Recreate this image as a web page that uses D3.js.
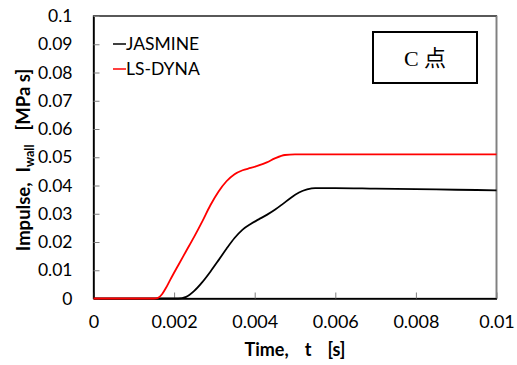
<!DOCTYPE html>
<html><head><meta charset="utf-8">
<script src="https://cdn.jsdelivr.net/npm/d3@7"></script>
<style>
body{margin:0;background:#fff;}
svg{display:block;}
text{font-family:Lato,"Noto Sans",sans-serif;}
</style></head>
<body><svg id="c" width="517" height="365"></svg>
<script>
const xTicks=[0,0.002,0.004,0.006,0.008,0.01];
const xTickLabels=["0","0.002","0.004","0.006","0.008","0.01"];
const yTicks=[0,0.01,0.02,0.03,0.04,0.05,0.06,0.07,0.08,0.09,0.1];
const yTickLabels=["0","0.01","0.02","0.03","0.04","0.05","0.06","0.07","0.08","0.09","0.1"];
const seriesNames=["JASMINE","LS-DYNA"];
const seriesColors=["#000000","#ff0000"];
const jasmineT=[0,0.0020,0.0021,0.0023,0.0025,0.0027,0.0029,0.0031,0.0033,0.0035,0.0037,0.0039,0.0041,0.0043,0.0045,0.0047,0.0049,0.0051,0.0053,0.0055,0.0060,0.0070,0.0080,0.0090,0.0100];
const jasmineV=[0,0,0,0.0006,0.0027,0.0058,0.0095,0.0135,0.0176,0.0214,0.0244,0.0264,0.0280,0.0296,0.0314,0.0335,0.0357,0.0375,0.0386,0.0391,0.0391,0.0389,0.0387,0.0385,0.0383];
const lsdynaT=[0,0.0015,0.0016,0.0017,0.0018,0.0019,0.0021,0.0023,0.0025,0.0027,0.0029,0.0031,0.0033,0.0035,0.0037,0.0039,0.0041,0.0043,0.0045,0.00475,0.0050,0.0060,0.0070,0.0080,0.0090,0.0100];
const lsdynaV=[0,0,0.0002,0.0015,0.0038,0.0065,0.0117,0.0168,0.0219,0.0273,0.0330,0.0378,0.0415,0.0440,0.0454,0.0462,0.0471,0.0482,0.0496,0.0508,0.0510,0.0510,0.0510,0.0510,0.0510,0.0510];

const svg=d3.select("#c");
const L=93.5,R=496.5,T=16,B=298.5;
const x=d3.scaleLinear().domain([0,0.01]).range([L,R]);
const y=d3.scaleLinear().domain([0,0.1]).range([B,T]);

// plot frame
svg.append("rect").attr("x",L).attr("y",T).attr("width",R-L).attr("height",B-T)
  .attr("fill","none").attr("stroke","#000").attr("stroke-width",1.3);
svg.append("line").attr("x1",R).attr("x2",R).attr("y1",T).attr("y2",B).attr("stroke","#808080").attr("stroke-width",1.5);

// axes
const xAxis=d3.axisBottom(x).tickValues(xTicks).tickFormat((d,i)=>xTickLabels[i]).tickSizeInner(-6).tickSizeOuter(0).tickPadding(17);
const gx=svg.append("g").attr("transform",`translate(0,${B})`).call(xAxis);
gx.select(".domain").attr("stroke","#000").attr("stroke-width",1.5);
gx.selectAll(".tick line").attr("stroke","#808080");
gx.selectAll("text").attr("font-size",18).attr("fill","#000").style("font-family","Lato");

const yAxis=d3.axisLeft(y).tickValues(yTicks).tickFormat((d,i)=>yTickLabels[i]).tickSizeInner(-6).tickSizeOuter(0).tickPadding(21);
const gy=svg.append("g").attr("transform",`translate(${L},0)`).call(yAxis);
gy.select(".domain").attr("stroke","#000").attr("stroke-width",1.5);
gy.selectAll(".tick line").attr("stroke","#808080");
gy.selectAll("text").attr("font-size",17.5).attr("fill","#000").style("font-family","Lato");

// lines
const line=d3.line().x(d=>x(d[0])).y(d=>y(d[1])).curve(d3.curveMonotoneX);
const data=[d3.zip(jasmineT,jasmineV),d3.zip(lsdynaT,lsdynaV)];
data.forEach((s,i)=>{
  svg.append("path").datum(s).attr("d",line).attr("fill","none")
    .attr("stroke",seriesColors[i]).attr("stroke-width",1.8);
});

// legend
seriesNames.forEach((n,i)=>{
  const yy=44+i*25;
  svg.append("line").attr("x1",113).attr("x2",126).attr("y1",yy).attr("y2",yy)
    .attr("stroke",seriesColors[i]).attr("stroke-width",1.5);
  svg.append("text").attr("x",126).attr("y",yy).attr("dy","0.35em")
    .attr("font-size",17.5).text(n);
});

// C点 box
svg.append("rect").attr("x",373).attr("y",32).attr("width",104).attr("height",51)
  .attr("fill","#fff").attr("stroke","#000").attr("stroke-width",2);
svg.append("text").attr("x",425).attr("y",58).attr("dy","0.35em").attr("text-anchor","middle")
  .attr("font-size",22).style("font-family","'Liberation Serif','Noto Sans CJK JP',serif").text("C 点");

// axis titles
const xt=svg.append("text").attr("x",295).attr("y",356).attr("text-anchor","middle")
  .attr("font-size",18).attr("font-weight","bold");
xt.append("tspan").text("Time,");
xt.append("tspan").attr("dx",16).text("t");
xt.append("tspan").attr("dx",16).text("[s]");
const yt=svg.append("text").attr("transform","translate(30,160) rotate(-90)").attr("text-anchor","middle")
  .attr("font-size",18.5).attr("font-weight","bold");
yt.append("tspan").text("Impulse,");
yt.append("tspan").attr("dx",10).text("I");
yt.append("tspan").attr("font-size",12.5).attr("dy",4).text("wall");
yt.append("tspan").attr("dy",-4).attr("dx",14).text("[MPa s]");
</script></body></html>
